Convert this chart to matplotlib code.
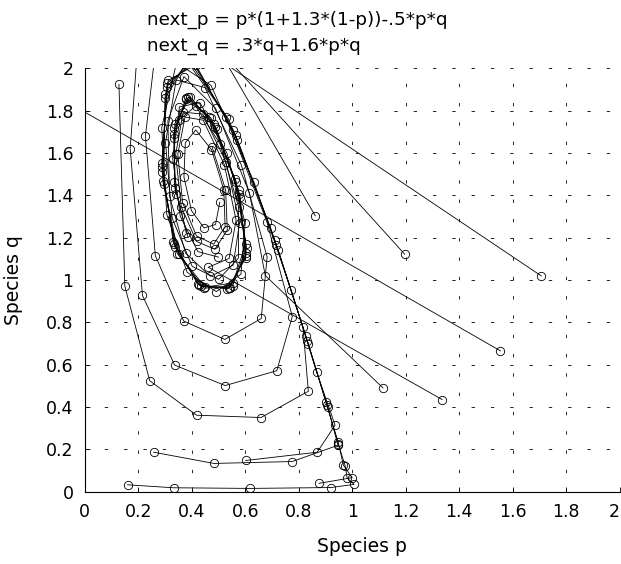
import matplotlib
matplotlib.use("Agg")
import matplotlib.pyplot as plt

# Trajectories of the map (21 points each,
# the two runaway ones leave the window after one step)
p_a = [1.707, -0.732]
q_a = [1.019, 3.089]

p_b = [1.554, -0.082]
q_b = [0.665, 1.853]

p_c = [1.196, 0.220, 0.170, 0.216, 0.336, 0.525, 0.718, 0.776, 0.681, 0.529, 0.384,
       0.301, 0.295, 0.351, 0.450, 0.554, 0.602, 0.561, 0.466, 0.377, 0.333]
q_c = [1.122, 2.484, 1.621, 0.927, 0.598, 0.501, 0.571, 0.827, 1.275, 1.772, 2.032,
       1.859, 1.454, 1.122, 0.966, 0.986, 1.170, 1.479, 1.771, 1.853, 1.673]

p_d = [0.862, 0.455, 0.280, 0.227, 0.264, 0.370, 0.524, 0.660, 0.682, 0.586, 0.450,
       0.342, 0.302, 0.327, 0.402, 0.501, 0.575, 0.575, 0.506, 0.415, 0.353]
q_d = [1.303, 2.188, 2.249, 1.681, 1.115, 0.806, 0.719, 0.818, 1.109, 1.542, 1.909,
       1.945, 1.649, 1.292, 1.064, 1.003, 1.104, 1.347, 1.643, 1.822, 1.757]

p_e = [1.336, 0.462, 0.540, 0.566, 0.522, 0.443, 0.375, 0.348, 0.366, 0.418, 0.482,
       0.525, 0.520, 0.474, 0.415, 0.376, 0.371, 0.399, 0.446, 0.489, 0.505]
q_e = [0.435, 1.060, 1.102, 1.283, 1.545, 1.755, 1.770, 1.594, 1.365, 1.208, 1.169,
       1.252, 1.427, 1.616, 1.709, 1.648, 1.486, 1.328, 1.246, 1.262, 1.367]

p_f = [1.115, 0.675, 0.616, 0.489, 0.371, 0.311, 0.317, 0.377, 0.470, 0.555, 0.579,
       0.528, 0.441, 0.368, 0.340, 0.361, 0.418, 0.487, 0.533, 0.527, 0.476]
q_f = [0.490, 1.021, 1.410, 1.811, 1.961, 1.753, 1.397, 1.127, 1.017, 1.070, 1.271,
       1.558, 1.784, 1.793, 1.593, 1.346, 1.182, 1.145, 1.236, 1.425, 1.630]

p_g = [0.128, 0.150, 0.243, 0.418, 0.659, 0.836, 0.816, 0.695, 0.538, 0.388, 0.301,
       0.292, 0.346, 0.446, 0.553, 0.605, 0.567, 0.472, 0.380, 0.332, 0.340]
q_g = [1.924, 0.971, 0.524, 0.361, 0.350, 0.474, 0.776, 1.246, 1.759, 2.040, 1.879,
       1.468, 1.125, 0.961, 0.973, 1.153, 1.462, 1.765, 1.862, 1.689, 1.405]

p_h = [0.160, 0.332, 0.618, 0.920, 1.007, 0.981, 0.974, 0.948, 0.906, 0.832, 0.717,
       0.564, 0.409, 0.309, 0.289, 0.334, 0.428, 0.538, 0.603, 0.578, 0.488]
q_h = [0.032, 0.018, 0.015, 0.019, 0.034, 0.065, 0.121, 0.224, 0.408, 0.713, 1.164,
       1.684, 2.024, 1.931, 1.535, 1.169, 0.975, 0.960, 1.114, 1.408, 1.725]

p_i = [0.258, 0.483, 0.776, 0.947, 0.909, 0.836, 0.723, 0.571, 0.415, 0.312, 0.288,
       0.331, 0.423, 0.533, 0.602, 0.581, 0.493, 0.395, 0.337, 0.335, 0.380]
q_i = [0.186, 0.133, 0.142, 0.219, 0.398, 0.697, 1.142, 1.663, 2.017, 1.943, 1.553,
       1.181, 0.980, 0.957, 1.104, 1.394, 1.714, 1.865, 1.739, 1.461, 1.220]

p_j = [0.602, 0.869, 0.936, 0.867, 0.772, 0.633, 0.472, 0.343, 0.288, 0.307, 0.383,
       0.492, 0.584, 0.600, 0.532, 0.431, 0.354, 0.329, 0.357, 0.423, 0.500]
q_j = [0.147, 0.186, 0.314, 0.565, 0.952, 1.462, 1.920, 2.027, 1.720, 1.309, 1.036,
       0.945, 1.027, 1.268, 1.598, 1.838, 1.818, 1.574, 1.302, 1.134, 1.108]

p_k = [0.876, 1.000, 0.967, 0.948, 0.902, 0.827, 0.710, 0.555, 0.402, 0.306, 0.289,
       0.338, 0.434, 0.543, 0.604, 0.575, 0.483, 0.388, 0.335, 0.337, 0.386]
q_k = [0.039, 0.066, 0.125, 0.232, 0.421, 0.734, 1.191, 1.710, 2.031, 1.914, 1.512,
       1.154, 0.970, 0.964, 1.127, 1.426, 1.739, 1.865, 1.716, 1.434, 1.204]

tick_values = [0, 0.2, 0.4, 0.6, 0.8, 1, 1.2, 1.4, 1.6, 1.8, 2]
tick_labels = ["0", "0.2", "0.4", "0.6", "0.8", "1", "1.2", "1.4", "1.6", "1.8", "2"]

title_lines = ["next_p = p*(1+1.3*(1-p))-.5*p*q", "next_q = .3*q+1.6*p*q"]

plt.rcParams["font.family"] = ["DejaVu Sans"]
plt.rcParams["lines.scale_dashes"] = False

fig = plt.figure(figsize=(6.21, 5.64), dpi=100)
ax = fig.add_axes([0.1364, 0.1284, 0.8615, 0.7504])

trajs = [(p_a, q_a), (p_b, q_b), (p_c, q_c), (p_d, q_d), (p_e, q_e), (p_f, q_f),
         (p_g, q_g), (p_h, q_h), (p_i, q_i), (p_j, q_j), (p_k, q_k)]
for p, q in trajs:
    ax.plot(p, q, "-o", color="k", lw=0.6, ms=6, mfc="none", mec="k", mew=0.6)

ax.set_xlim(0, 2)
ax.set_ylim(0, 2)
ax.set_xticks(tick_values)
ax.set_xticklabels(tick_labels)
ax.set_yticks(tick_values)
ax.set_yticklabels(tick_labels)
ax.tick_params(direction="in", length=3.5, width=0.6, labelsize=12.5, pad=8)
# last x label sits at the figure edge, keep it inside
ax.get_xticklabels()[-1].set_horizontalalignment("right")
ax.grid(True, color="k", lw=0.6, linestyle=(0, (2.4, 11.5)))
ax.set_axisbelow(True)
ax.spines["top"].set_visible(False)
ax.spines["right"].set_visible(False)
ax.spines["left"].set_linewidth(0.8)
ax.spines["bottom"].set_linewidth(0.8)

fig.text(147 / 621, 1 - 20 / 564, title_lines[0], ha="left", va="center", fontsize=13.2)
fig.text(147 / 621, 1 - 46 / 564, title_lines[1], ha="left", va="center", fontsize=13.2)
fig.text(362 / 621, 1 - 547 / 564, "Species p", ha="center", va="center", fontsize=13.5)
fig.text(14 / 621, 1 - 280 / 564, "Species q", ha="center", va="center",
         rotation=90, fontsize=13.5)

fig.savefig("out.png", dpi=100)
